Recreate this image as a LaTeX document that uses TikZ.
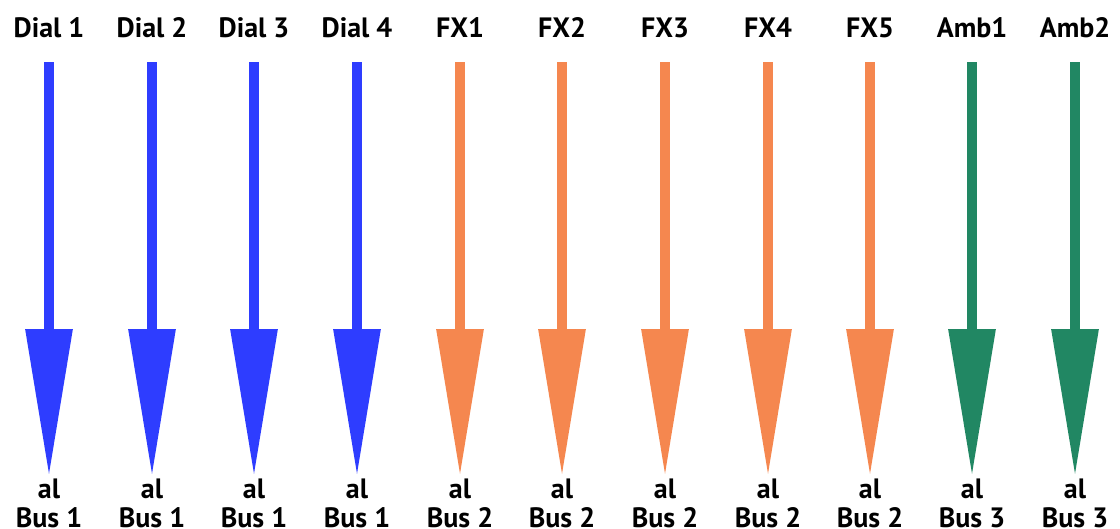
\documentclass[tikz,border=0pt]{standalone}
\usepackage{fontspec}
\setmainfont{PT Sans}
\usetikzlibrary{arrows.meta}
\definecolor{cblue}{HTML}{2E3DFF}
\definecolor{corange}{HTML}{F5874F}
\definecolor{cgreen}{HTML}{218763}
\tikzset{
  lbl/.style={font=\fontsize{28}{30}\selectfont\bfseries, anchor=base, inner sep=0pt},
  flow/.style={draw=#1, line width=9.5pt, -{Triangle[length=147pt,width=45pt,fill=#1]}}
}
\begin{document}
\begin{tikzpicture}[x=1pt,y=-1pt]
\useasboundingbox[fill=white] (0,0) rectangle (1120,528);
\foreach \i/\x/\top/\bus/\col in {1/49/Dial 1/Bus 1/cblue, 2/152/Dial 2/Bus 1/cblue, 3/254/Dial 3/Bus 1/cblue, 4/357/Dial 4/Bus 1/cblue, 5/460/FX1/Bus 2/corange, 6/562/FX2/Bus 2/corange, 7/665/FX3/Bus 2/corange, 8/768/FX4/Bus 2/corange, 9/870/FX5/Bus 2/corange, 10/972/Amb1/Bus 3/cgreen, 11/1075/Amb2/Bus 3/cgreen}{
  \node[lbl] (t\i) at (\x,37.5) {\top};
  \node[lbl] (a\i) at (\x,498) {al};
  \node[lbl] (b\i) at (\x,527.5) {\bus};
  \coordinate (s\i) at (\x,62);
  \coordinate (e\i) at (\x,476);
  \draw[flow=\col] (s\i) -- (e\i);
}
\end{tikzpicture}
\end{document}
